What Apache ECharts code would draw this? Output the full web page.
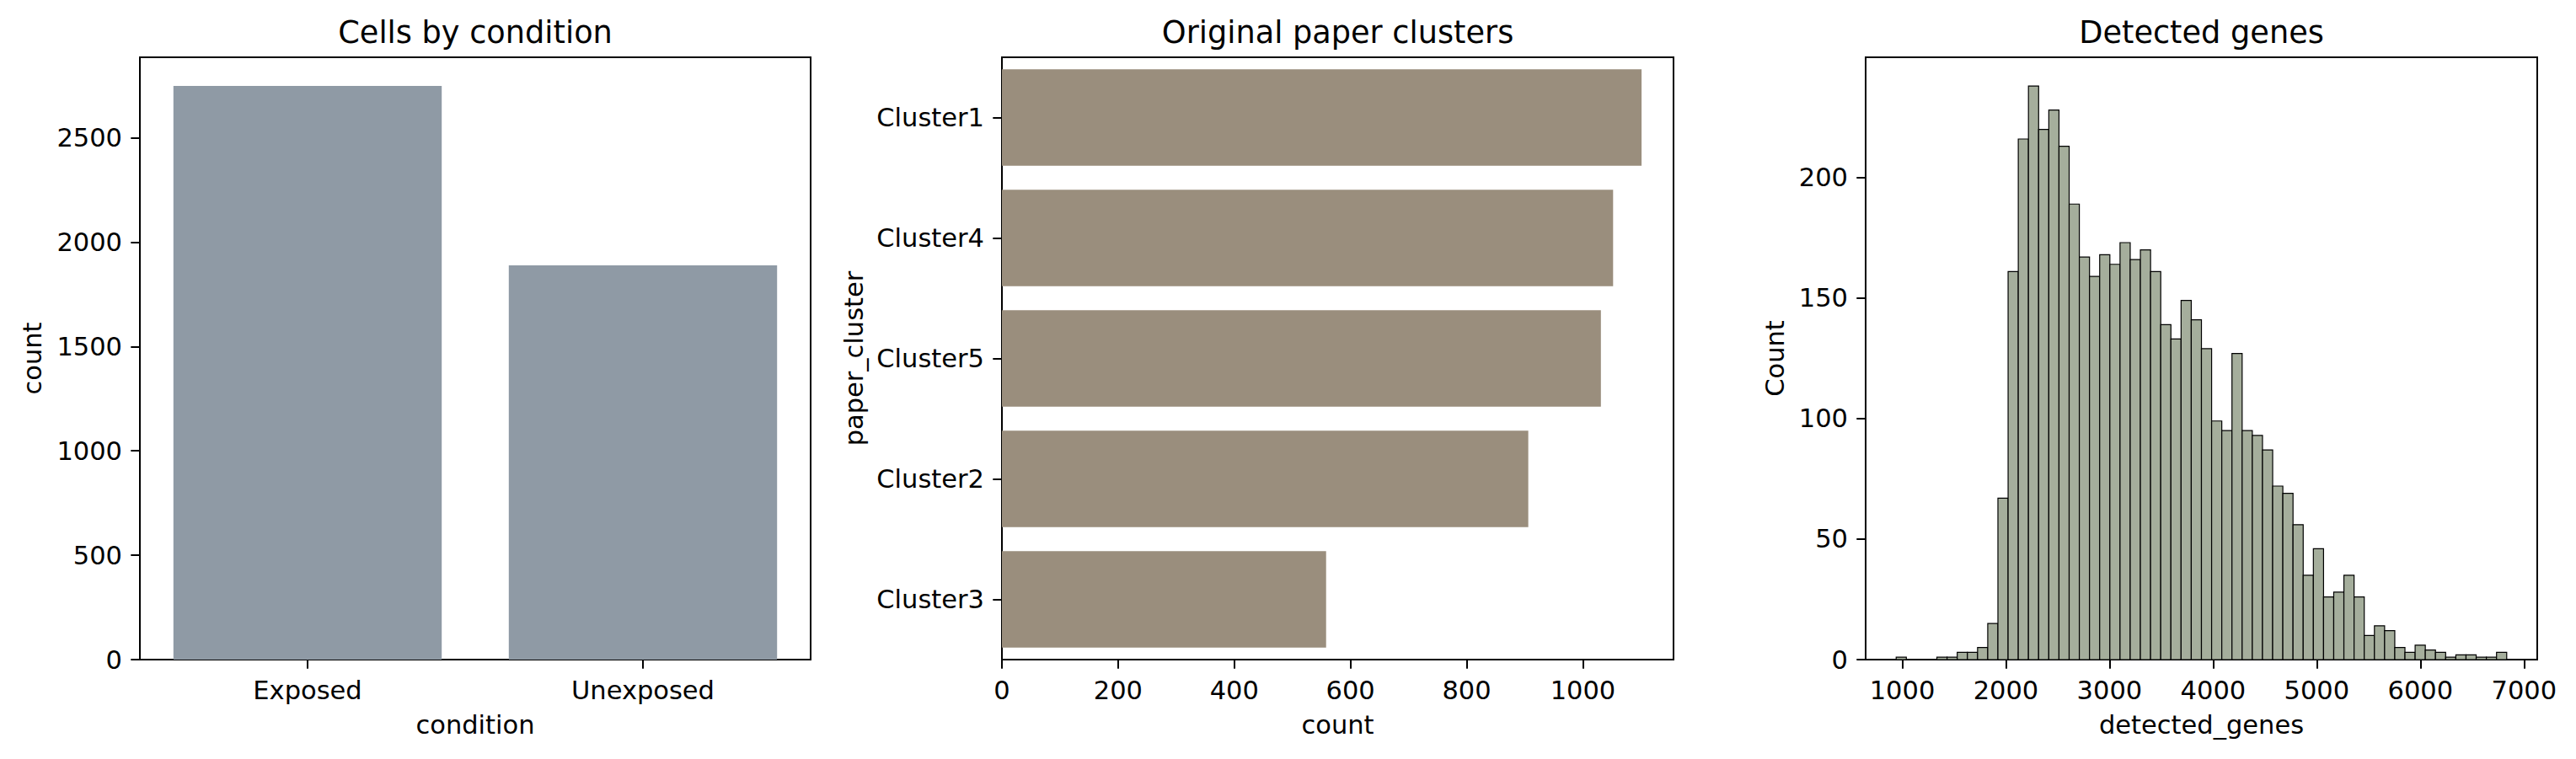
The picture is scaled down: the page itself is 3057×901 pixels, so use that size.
<!DOCTYPE html>
<html><head><meta charset="utf-8">
<script src="https://cdn.jsdelivr.net/npm/echarts@6/dist/echarts.min.js"></script>
<style>html,body{margin:0;padding:0;background:#fff}#c{width:3057px;height:901px}</style>
</head><body><div id="c"></div>
<script>
// ---- data ----
const conditionCategories = ['Exposed', 'Unexposed'];
const conditionCounts = [2748, 1889];
const conditionTicks = [0, 500, 1000, 1500, 2000, 2500];

const clusterCategories = ['Cluster1', 'Cluster4', 'Cluster5', 'Cluster2', 'Cluster3'];
const clusterCounts = [1101, 1052, 1031, 906, 558];
const clusterTicks = [0, 200, 400, 600, 800, 1000];

const geneBinStart = 941;
const geneBinWidth = 98.2;
const geneCounts = [
  1, 0, 0, 0, 1, 1, 3, 3, 5, 15,
  67, 161, 216, 238, 220, 228, 213, 189, 167, 159,
  168, 164, 173, 166, 170, 161, 139, 133, 149, 141,
  129, 99, 95, 127, 95, 93, 87, 72, 69, 56,
  35, 46, 26, 28, 35, 26, 10, 14, 12, 5,
  3, 6, 4, 3, 1, 2, 2, 1, 1, 3
];
const geneTicksX = [1000, 2000, 3000, 4000, 5000, 6000, 7000];
const geneTicksY = [0, 50, 100, 150, 200];

// ---- styles ----
const FONT = 'DejaVu Sans';
const TICK_FS = 30.5, TITLE_FS = 36.7;
const LINE_W = 2;
const plain = v => String(v);
const axisLineS = { show: true, lineStyle: { color: '#000', width: LINE_W } };
const axisTickS = { show: true, length: 10.7, lineStyle: { color: '#000', width: LINE_W } };
const labelS = { color: '#000', fontSize: TICK_FS, fontFamily: FONT, margin: 21 };
const nameS = { color: '#000', fontSize: TICK_FS, fontFamily: FONT };

const geneData = geneCounts.map((c, i) => [geneBinStart + i * geneBinWidth, geneBinStart + (i + 1) * geneBinWidth, c]).filter(d => d[2] > 0);
const geneMin = geneBinStart, geneMax = geneBinStart + geneCounts.length * geneBinWidth;
const gPad = 0.05 * (geneMax - geneMin);

const gridBase = { top: 68, height: 715, width: 797, show: true, borderColor: '#000', borderWidth: LINE_W, backgroundColor: 'transparent', containLabel: false, outerBoundsMode: 'none' };

const titleStyle = { fontFamily: FONT, fontSize: TITLE_FS, fontWeight: 'normal', color: '#000' };

const chart = echarts.init(document.getElementById('c'), null, { renderer: 'svg', width: 3057, height: 901 });
chart.setOption({
  animation: false,
  backgroundColor: '#fff',
  textStyle: { fontFamily: FONT },
  title: [
    { text: 'Cells by condition', left: 564, top: 20, textAlign: 'center', textVerticalAlign: 'top', padding: 0, textStyle: titleStyle },
    { text: 'Original paper clusters', left: 1587.5, top: 20, textAlign: 'center', textVerticalAlign: 'top', padding: 0, textStyle: titleStyle },
    { text: 'Detected genes', left: 2612.5, top: 20, textAlign: 'center', textVerticalAlign: 'top', padding: 0, textStyle: titleStyle }
  ],
  grid: [
    Object.assign({}, gridBase, { left: 166, width: 796 }),
    Object.assign({}, gridBase, { left: 1189 }),
    Object.assign({}, gridBase, { left: 2214 })
  ],
  xAxis: [
    { gridIndex: 0, type: 'category', data: conditionCategories, boundaryGap: true,
      name: 'condition', nameLocation: 'middle', nameGap: 62, nameTextStyle: nameS,
      axisLine: axisLineS, axisTick: Object.assign({ alignWithLabel: true }, axisTickS), axisLabel: labelS, splitLine: { show: false } },
    { gridIndex: 1, type: 'value', min: 0, max: 1156,
      name: 'count', nameLocation: 'middle', nameGap: 62, nameTextStyle: nameS,
      axisLine: axisLineS, axisTick: Object.assign({ customValues: clusterTicks }, axisTickS),
      axisLabel: Object.assign({ customValues: clusterTicks, formatter: plain }, labelS), splitLine: { show: false } },
    { gridIndex: 2, type: 'value', min: geneMin - gPad, max: geneMax + gPad,
      name: 'detected_genes', nameLocation: 'middle', nameGap: 62, nameTextStyle: nameS,
      axisLine: axisLineS, axisTick: Object.assign({ customValues: geneTicksX }, axisTickS),
      axisLabel: Object.assign({ customValues: geneTicksX, formatter: plain }, labelS), splitLine: { show: false } }
  ],
  yAxis: [
    { gridIndex: 0, type: 'value', min: 0, max: 2748 * 1.05,
      name: 'count', nameLocation: 'middle', nameGap: 112, nameRotate: 90, nameTextStyle: nameS,
      axisLine: axisLineS, axisTick: Object.assign({ customValues: conditionTicks }, axisTickS),
      axisLabel: Object.assign({ customValues: conditionTicks, formatter: plain }, labelS), splitLine: { show: false } },
    { gridIndex: 1, type: 'category', data: clusterCategories, inverse: true, boundaryGap: true,
      name: 'paper_cluster', nameLocation: 'middle', nameGap: 160, nameRotate: 90, nameTextStyle: nameS,
      axisLine: axisLineS, axisTick: Object.assign({ alignWithLabel: true }, axisTickS), axisLabel: labelS, splitLine: { show: false } },
    { gridIndex: 2, type: 'value', min: 0, max: 238 * 1.05,
      name: 'Count', nameLocation: 'middle', nameGap: 92, nameRotate: 90, nameTextStyle: nameS,
      axisLine: axisLineS, axisTick: Object.assign({ customValues: geneTicksY }, axisTickS),
      axisLabel: Object.assign({ customValues: geneTicksY, formatter: plain }, labelS), splitLine: { show: false } }
  ],
  series: [
    { type: 'bar', xAxisIndex: 0, yAxisIndex: 0, data: conditionCounts, barWidth: '80%', itemStyle: { color: '#8f9aa5' } },
    { type: 'bar', xAxisIndex: 1, yAxisIndex: 1, data: clusterCounts, barWidth: '80%', itemStyle: { color: '#9a8e7d' } },
    { type: 'custom', xAxisIndex: 2, yAxisIndex: 2, data: geneData, encode: { x: [0, 1], y: 2 },
      renderItem: function (params, api) {
        const p0 = api.coord([api.value(0), api.value(2)]);
        const p1 = api.coord([api.value(1), 0]);
        return { type: 'rect', shape: { x: p0[0], y: p0[1], width: p1[0] - p0[0], height: p1[1] - p0[1] },
          style: { fill: '#a5ae9c', stroke: '#000', lineWidth: 1.2 } };
      } }
  ]
});
</script></body></html>
